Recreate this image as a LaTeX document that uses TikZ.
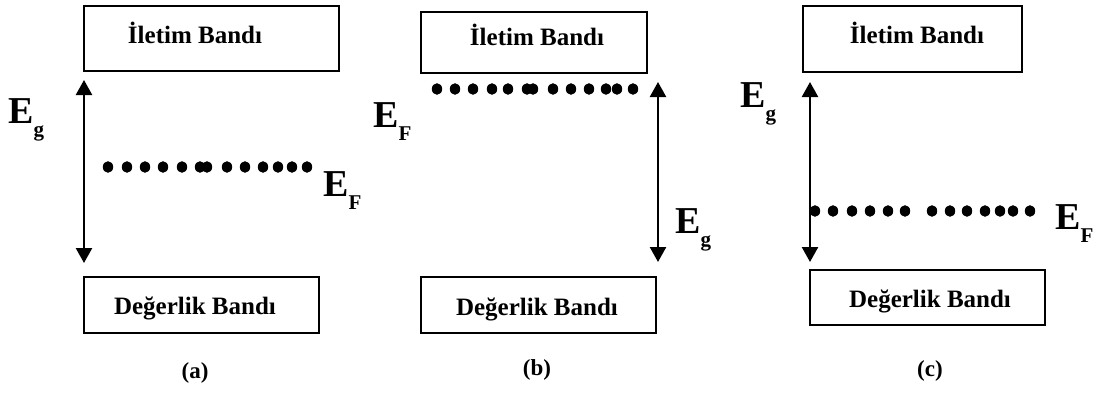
\documentclass[tikz,border=0pt]{standalone}
\usepackage{fontspec}
\setmainfont{Liberation Serif}
\usetikzlibrary{arrows.meta}

% energy symbol with a lowered subscript
\newcommand{\enlab}[1]{\fontsize{38}{38}\selectfont E\raisebox{-13pt}{\fontsize{21}{21}\selectfont #1}}

\begin{document}
\begin{tikzpicture}[x=1pt,y=-1pt,
  bandbox/.style={draw=black,line width=2.2pt,rectangle,inner sep=0pt},
  bandtext/.style={font=\bfseries\fontsize{25}{25}\selectfont,anchor=base,inner sep=0pt},
  caplabel/.style={font=\bfseries\fontsize{23}{23}\selectfont,anchor=base,inner sep=0pt},
  symlabel/.style={font=\bfseries,anchor=base west,inner sep=0pt},
  gaparrow/.style={line width=2.4pt,{Triangle[length=15pt,width=16pt]}-{Triangle[length=15pt,width=16pt]}},
  fdot/.style={fill=black,draw=none}
]
\useasboundingbox (0,0) rectangle (1101,394);

% ---------- (a) intrinsic ----------
\node[bandbox,minimum width=255pt,minimum height=65pt] (acb) at (211.5,38.5) {};
\node[bandbox,minimum width=235pt,minimum height=56pt] (avb) at (201.5,305) {};
\node[bandtext] (acbt) at (195,43) {İletim Bandı};
\node[bandtext] (avbt) at (195,314) {Değerlik Bandı};
\coordinate (aup) at (84,80);
\coordinate (adn) at (84,263);
\draw[gaparrow] (aup) -- (adn);
\node[symlabel] (aeg) at (8,123) {\enlab{g}};
\node[symlabel] (aef) at (323,196) {\enlab{F}};
\foreach \x in {108,127,145,163,182,200,207,227,245,263,278,292,307}
  \fill[fdot] (\x,167) ellipse (5.2pt and 5.8pt);
\node[caplabel] (acap) at (195,378) {(a)};

% ---------- (b) n-type ----------
\node[bandbox,minimum width=226pt,minimum height=61pt] (bcb) at (534,42.5) {};
\node[bandbox,minimum width=235pt,minimum height=56pt] (bvb) at (538.5,305) {};
\node[bandtext] (bcbt) at (537,45) {İletim Bandı};
\node[bandtext] (bvbt) at (537,315) {Değerlik Bandı};
\coordinate (bup) at (658,82);
\coordinate (bdn) at (658,262);
\draw[gaparrow] (bup) -- (bdn);
\node[symlabel] (bef) at (373,127) {\enlab{F}};
\node[symlabel] (beg) at (675,233) {\enlab{g}};
\foreach \x in {437,455,473,492,508,527,533,553,571,589,606,617,633}
  \fill[fdot] (\x,89) ellipse (5.2pt and 5.8pt);
\node[caplabel] (bcap) at (537,375) {(b)};

% ---------- (c) p-type ----------
\node[bandbox,minimum width=219pt,minimum height=66pt] (ccb) at (912.5,39) {};
\node[bandbox,minimum width=235pt,minimum height=55pt] (cvb) at (927.5,297.5) {};
\node[bandtext] (ccbt) at (917,43) {İletim Bandı};
\node[bandtext] (cvbt) at (930,307) {Değerlik Bandı};
\coordinate (cup) at (810,82);
\coordinate (cdn) at (810,262);
\draw[gaparrow] (cup) -- (cdn);
\node[symlabel] (ceg) at (740,107) {\enlab{g}};
\node[symlabel] (cef) at (1055,229) {\enlab{F}};
\foreach \x in {815,833,852,870,888,905,932,950,967,985,1000,1013,1030}
  \fill[fdot] (\x,211) ellipse (5.2pt and 5.8pt);
\node[caplabel] (ccap) at (930,376) {(c)};
\end{tikzpicture}
\end{document}
